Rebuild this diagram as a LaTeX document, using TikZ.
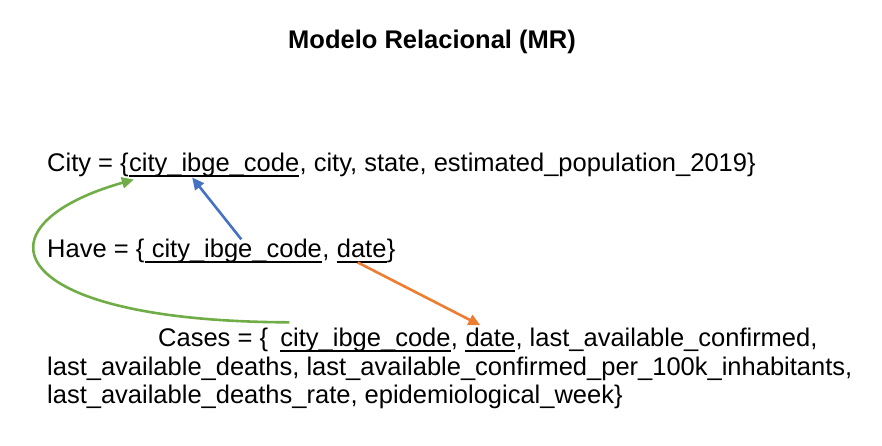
\documentclass[tikz,border=0pt]{standalone}
\usepackage{fontspec}
\setmainfont{Liberation Sans}
\usetikzlibrary{arrows.meta,positioning}
\definecolor{fkblue}{HTML}{4472C4}
\definecolor{fkorange}{HTML}{ED7D31}
\definecolor{fkgreen}{HTML}{70AD47}
\tikzset{
txt/.style={
  inner sep=0pt,
  anchor=base west,
  font=\fontsize{25.5pt}{29pt}\selectfont
  },
pkey/.style={
  txt
  },
keyline/.style={
  line width=2pt
  },
fkarrow/.style={
  line width=2.6pt,
  -{Triangle[length=12pt,width=11pt]},
  draw=#1
  }
}

\begin{document}
\begin{tikzpicture}[x=1pt,y=1pt]
\useasboundingbox (0,0) rectangle (882,446);

\node[inner sep=0pt,anchor=base,font=\fontsize{25.5pt}{29pt}\selectfont\bfseries]
  at (432,397) (title) {Modelo Relacional (MR)};

% City
\node[txt] at (47,274) (city) {City = \{};
\node[pkey] at (city.base east) (citykey) {city\_ibge\_code};
\node[txt] at (citykey.base east) (cityrest)
  {, city, state, estimated\_population\_2019\}};

% Have
\node[txt] at (47,188) (have) {Have = \{};
\node[pkey] at (have.base east) (havekey) {\ city\_ibge\_code};
\node[txt] at (havekey.base east) (havesep) {,\ \mbox{}};
\node[pkey] at (havesep.base east) (havedate) {date};
\node[txt] at (havedate.base east) (haverest) {\}};

% Cases
\node[txt] at (158,99) (cases) {Cases = \{};
\node[pkey] at ([xshift=12pt]cases.base east) (caseskey) {city\_ibge\_code};
\node[txt] at (caseskey.base east) (casessep) {,\ \mbox{}};
\node[pkey] at (casessep.base east) (casesdate) {date};
\node[txt] at (casesdate.base east) (casesrest) {, last\_available\_confirmed,};
\node[txt] at (47,70) (casesb)
  {last\_available\_deaths, last\_available\_confirmed\_per\_100k\_inhabitants,};
\node[txt] at (47,42) (casesc)
  {last\_available\_deaths\_rate, epidemiological\_week\}};

% underlined keys
\foreach \k in {citykey,havekey,havedate,caseskey,casesdate}
  \draw[keyline] ([yshift=-4pt]\k.base west) -- ([yshift=-4pt]\k.base east);

\draw[fkarrow=fkblue]
  ([xshift=8pt]havekey.north) -- ([xshift=-22pt]citykey.south);
\draw[fkarrow=fkorange]
  ([shift={(-4pt,-4pt)}]havedate.south) -- ([shift={(-10pt,3pt)}]casesdate.north);
\draw[fkarrow=fkgreen]
  ([shift={(9pt,6pt)}]caseskey.north west)
    .. controls +(-288,1) and +(-162,-46) ..
  ([shift={(5pt,-2pt)}]citykey.south west);
\end{tikzpicture}
\end{document}
